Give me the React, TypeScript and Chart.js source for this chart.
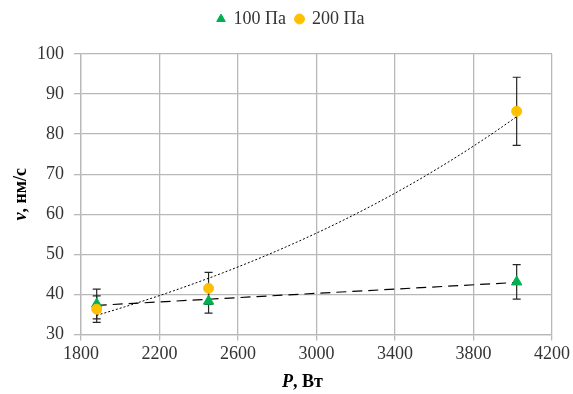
import React, { useEffect, useRef } from "react";
import { Chart, registerables } from "chart.js";

Chart.register(...registerables);

const powerX = [1880, 2450, 4020];
const v100 = [37.6, 38.3, 43.1];
const err100 = [3.7, 3.0, 4.3];
const v200 = [36.3, 41.5, 85.7];
const err200 = [3.3, 4.0, 8.5];
const xTicks = [1800, 2200, 2600, 3000, 3400, 3800, 4200];
const yTicks = [30, 40, 50, 60, 70, 80, 90, 100];
const label100 = "100 Па";
const label200 = "200 Па";
const yTitleItalic = "v";
const yTitleRest = ", нм/с";
const xTitleItalic = "P";
const xTitleRest = ", Вт";

const FONT = '"Liberation Serif", "Times New Roman", serif';

function linearFit(xs: number[], ys: number[]) {
  const n = xs.length;
  const mx = xs.reduce((a, b) => a + b, 0) / n;
  const my = ys.reduce((a, b) => a + b, 0) / n;
  let sxy = 0, sxx = 0;
  for (let i = 0; i < n; i++) {
    sxy += (xs[i] - mx) * (ys[i] - my);
    sxx += (xs[i] - mx) ** 2;
  }
  const b = sxy / sxx;
  return { a: my - b * mx, b };
}

function trendPoints(kind: "lin" | "exp", xs: number[], ys: number[]) {
  const x0 = Math.min(...xs);
  const x1 = Math.max(...xs);
  const steps = 60;
  const pts: { x: number; y: number }[] = [];
  if (kind === "lin") {
    const f = linearFit(xs, ys);
    pts.push({ x: x0, y: f.a + f.b * x0 }, { x: x1, y: f.a + f.b * x1 });
  } else {
    const f = linearFit(xs, ys.map((v) => Math.log(v)));
    for (let i = 0; i <= steps; i++) {
      const x = x0 + ((x1 - x0) * i) / steps;
      pts.push({ x, y: Math.exp(f.a + f.b * x) });
    }
  }
  return pts;
}

const errorBarPlugin = {
  id: "errorBars",
  beforeDatasetsDraw(chart: any) {
    const { ctx, scales } = chart;
    const xs = scales.x;
    const ys = scales.y;
    ctx.save();
    ctx.strokeStyle = "#262626";
    ctx.lineWidth = 1.2;
    const sets = [
      { v: v100, e: err100 },
      { v: v200, e: err200 },
    ];
    sets.forEach((s) => {
      powerX.forEach((x, i) => {
        const px = xs.getPixelForValue(x);
        const top = ys.getPixelForValue(s.v[i] + s.e[i]);
        const bot = ys.getPixelForValue(s.v[i] - s.e[i]);
        ctx.beginPath();
        ctx.moveTo(px, top);
        ctx.lineTo(px, bot);
        ctx.moveTo(px - 4, top);
        ctx.lineTo(px + 4, top);
        ctx.moveTo(px - 4, bot);
        ctx.lineTo(px + 4, bot);
        ctx.stroke();
      });
    });
    ctx.restore();
  },
};

const legendGapPlugin = {
  id: "legendGap",
  beforeInit(chart: any) {
    const legend = chart.legend;
    if (!legend) return;
    const origFit = legend.fit;
    legend.fit = function () {
      origFit.call(this);
      this.height += 16;
    };
  },
};

const axisTitlePlugin = {
  id: "axisTitles",
  afterDraw(chart: any) {
    const { ctx, chartArea } = chart;
    ctx.save();
    ctx.fillStyle = "#000";
    ctx.textBaseline = "middle";
    const italic = `italic bold 18px ${FONT}`;
    const bold = `bold 18px ${FONT}`;
    ctx.font = italic;
    const w1 = ctx.measureText(xTitleItalic).width;
    ctx.font = bold;
    const w2 = ctx.measureText(xTitleRest).width;
    const cx = (chartArea.left + chartArea.right) / 2 - 14;
    const sx = cx - (w1 + w2) / 2;
    const ty = 382;
    ctx.textAlign = "left";
    ctx.font = italic;
    ctx.fillText(xTitleItalic, sx, ty);
    ctx.font = bold;
    ctx.fillText(xTitleRest, sx + w1, ty);
    ctx.font = italic;
    const h1 = ctx.measureText(yTitleItalic).width;
    ctx.font = bold;
    const h2 = ctx.measureText(yTitleRest).width;
    const cy = (chartArea.top + chartArea.bottom) / 2;
    ctx.translate(21, cy);
    ctx.rotate(-Math.PI / 2);
    const sy = -(h1 + h2) / 2;
    ctx.font = italic;
    ctx.fillText(yTitleItalic, sy, 0);
    ctx.font = bold;
    ctx.fillText(yTitleRest, sy + h1, 0);
    ctx.restore();
  },
};

export default function App() {
  const ref = useRef<HTMLCanvasElement | null>(null);
  useEffect(() => {
    if (!ref.current) return;
    let chart: any = null;
    let cancelled = false;
    const build = () => {
      if (cancelled || !ref.current) return;
      const pts = (v: number[]) => powerX.map((x, i) => ({ x, y: v[i] }));
      chart = new Chart(ref.current, {
        type: "scatter",
        data: {
          datasets: [
            {
              label: label100,
              data: pts(v100),
              pointStyle: "triangle",
              pointRadius: 6,
              backgroundColor: "#00b050",
              borderColor: "#00b050",
              order: 2,
            },
            {
              label: label200,
              data: pts(v200),
              pointStyle: "circle",
              pointRadius: 5,
              backgroundColor: "#ffc000",
              borderColor: "#ffc000",
              order: 1,
            },
            {
              label: "trend100",
              type: "line",
              data: trendPoints("lin", powerX, v100),
              borderColor: "#000",
              borderWidth: 1.2,
              borderDash: [10, 6],
              pointRadius: 0,
              fill: false,
              order: 3,
            },
            {
              label: "trend200",
              type: "line",
              data: trendPoints("exp", powerX, v200),
              borderColor: "#000",
              borderWidth: 1,
              borderDash: [2, 2],
              pointRadius: 0,
              fill: false,
              tension: 0,
              order: 3,
            },
          ],
        },
        options: {
          animation: false,
          responsive: false,
          layout: { padding: { left: 27, right: 18, top: 0, bottom: 26 } },
          plugins: {
            legend: {
              position: "top",
              labels: {
                usePointStyle: true,
                boxWidth: 7,
                boxHeight: 7,
                padding: 10,
                color: "#333333",
                font: { family: FONT, size: 18 },
                filter: (item: any) => !item.text.startsWith("trend"),
                sort: (a: any, b: any) => a.datasetIndex - b.datasetIndex,
              },
            },
            tooltip: { enabled: false },
          },
          scales: {
            x: {
              type: "linear",
              min: 1800,
              max: 4200,
              afterBuildTicks: (axis: any) => {
                axis.ticks = xTicks.map((v) => ({ value: v }));
              },
              grid: { color: "#b8b8b8", lineWidth: 1.3, tickLength: 6 },
              border: { color: "#b8b8b8", width: 1.3 },
              ticks: {
                color: "#333333",
                font: { family: FONT, size: 18 },
                maxRotation: 0,
                padding: 3,
                callback: (v: any) => String(v),
              },
            },
            y: {
              type: "linear",
              min: 30,
              max: 100,
              afterBuildTicks: (axis: any) => {
                axis.ticks = yTicks.map((v) => ({ value: v }));
              },
              grid: { color: "#b8b8b8", lineWidth: 1.3, tickLength: 7 },
              border: { color: "#b8b8b8", width: 1.3 },
              ticks: {
                color: "#333333",
                font: { family: FONT, size: 18 },
                padding: 10,
                callback: (v: any) => String(v),
              },
            },
          },
        },
        plugins: [legendGapPlugin, errorBarPlugin, axisTitlePlugin],
      });
    };
    const fonts: any = (document as any).fonts;
    if (fonts && fonts.load) {
      Promise.all([
        fonts.load('18px "Liberation Serif"'),
        fonts.load('bold 18px "Liberation Serif"'),
        fonts.load('italic bold 18px "Liberation Serif"'),
      ])
        .catch(() => null)
        .then(build);
    } else {
      build();
    }
    return () => {
      cancelled = true;
      if (chart) chart.destroy();
    };
  }, []);
  return (
    <div style={{ width: 573, height: 394, position: "absolute", left: 0, top: 0, background: "#fff" }}>
      <canvas ref={ref} width={573} height={394} style={{ width: 573, height: 394 }} />
    </div>
  );
}
